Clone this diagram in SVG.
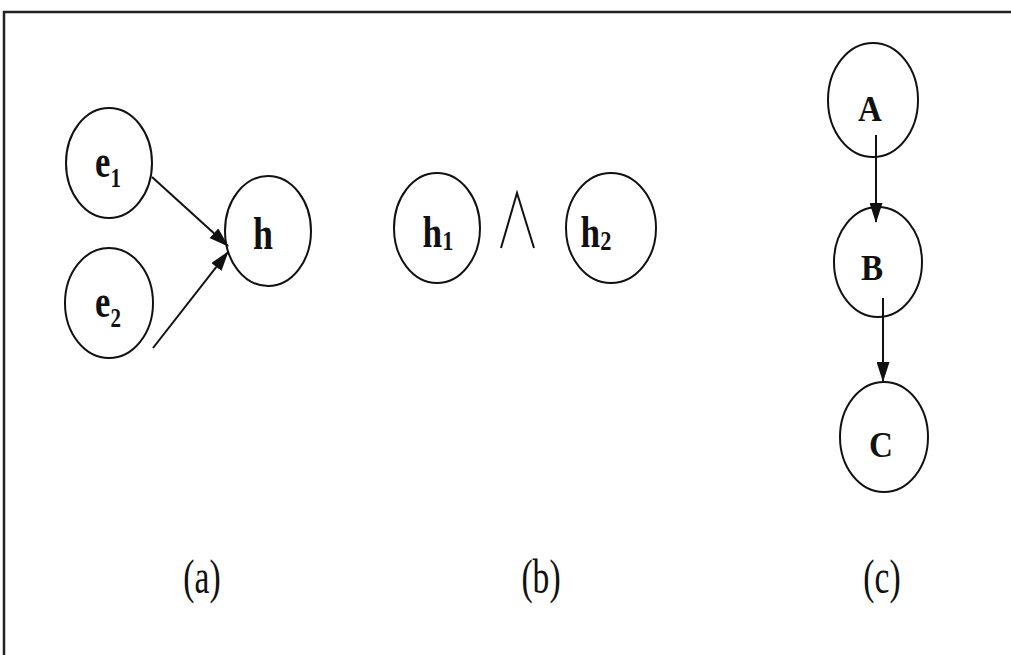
<svg xmlns="http://www.w3.org/2000/svg" width="1011" height="655" viewBox="0 0 1011 655">
<style>
.node{fill:#fff;stroke:#111;stroke-width:2}
.lbl{font-family:"Liberation Serif",serif;font-weight:bold;fill:#111;text-anchor:middle}
.sub{font-size:28px}
.cap{font-family:"Liberation Serif",serif;font-size:48px;fill:#111;text-anchor:middle}
.edge{stroke:#111;stroke-width:2;fill:none}
</style>
<defs>
<marker id="arr" viewBox="0 0 20 13" refX="19" refY="6.5" markerWidth="20" markerHeight="13" markerUnits="userSpaceOnUse" orient="auto">
<path d="M0,0 L20,6.5 L0,13 Z" fill="#111"/>
</marker>
</defs>
<rect x="4" y="12" width="1030" height="680" fill="#fff" stroke="#222" stroke-width="2.5"/>
<g id="node-e1"><ellipse class="node" cx="109" cy="163" rx="43" ry="55"/><text class="lbl" font-size="46" x="0" y="177" transform="translate(108 0) scale(0.75 1)">e<tspan class="sub" dy="10">1</tspan></text></g>
<g id="node-e2"><ellipse class="node" cx="109" cy="303" rx="44" ry="55"/><text class="lbl" font-size="46" x="0" y="317" transform="translate(108 0) scale(0.75 1)">e<tspan class="sub" dy="10">2</tspan></text></g>
<g id="node-h"><ellipse class="node" cx="268" cy="231" rx="43" ry="55"/><text class="lbl" font-size="46" x="0" y="249" transform="translate(263 0) scale(0.78 1)">h</text></g>
<g id="node-h1"><ellipse class="node" cx="437" cy="228" rx="43" ry="55"/><text class="lbl" font-size="44" x="0" y="247" transform="translate(438 0) scale(0.8 1)">h<tspan class="sub" dy="3">1</tspan></text></g>
<g id="and"><polyline class="edge" stroke-width="1.8" points="501,248 517,193 534,248"/></g>
<g id="node-h2"><ellipse class="node" cx="611" cy="228" rx="45" ry="55"/><text class="lbl" font-size="44" x="0" y="247" transform="translate(596 0) scale(0.8 1)">h<tspan class="sub" dy="3">2</tspan></text></g>
<g id="node-A"><ellipse class="node" cx="873" cy="100" rx="45" ry="57"/><text class="lbl" font-size="36" x="0" y="121" transform="translate(870 0) scale(0.92 1)">A</text></g>
<g id="node-B"><ellipse class="node" cx="878" cy="262" rx="44" ry="55"/><text class="lbl" font-size="36" x="0" y="280" transform="translate(872 0) scale(0.92 1)">B</text></g>
<g id="node-C"><ellipse class="node" cx="884" cy="437" rx="44" ry="55"/><text class="lbl" font-size="36" x="0" y="457" transform="translate(881 0) scale(0.92 1)">C</text></g>
<g id="connectors">
<line class="edge" x1="152" y1="177" x2="228" y2="246" marker-end="url(#arr)"/>
<line class="edge" x1="153" y1="348" x2="228" y2="252" marker-end="url(#arr)"/>
<line class="edge" x1="876" y1="135" x2="876" y2="222" marker-end="url(#arr)"/>
<line class="edge" x1="883" y1="298" x2="883" y2="381" marker-end="url(#arr)"/>
</g>
<g id="captions">
<text class="cap" x="0" y="593" transform="translate(202 0) scale(0.7 1)">(a)</text>
<text class="cap" x="0" y="593" transform="translate(541 0) scale(0.7 1)">(b)</text>
<text class="cap" x="0" y="593" transform="translate(882 0) scale(0.7 1)">(c)</text>
</g>
</svg>
